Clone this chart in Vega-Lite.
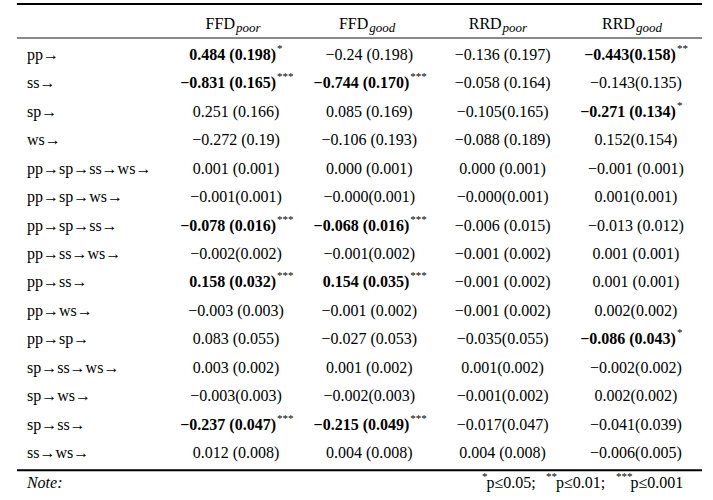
{
  "$schema": "https://vega.github.io/schema/vega-lite/v6.json",
  "width": 713,
  "height": 500,
  "autosize": {"type": "fit", "contains": "padding"},
  "padding": 0,
  "background": "white",
  "config": {
    "view": {"stroke": null},
    "text": {"font": "Liberation Serif", "fontSize": 16, "color": "black", "baseline": "middle"}
  },
  "datasets": {
    "cells": [
      {"r": 1, "c": 1, "t": "0.484 (0.198)", "s": "*"},
      {"r": 1, "c": 2, "t": "−0.24 (0.198)", "s": ""},
      {"r": 1, "c": 3, "t": "−0.136 (0.197)", "s": ""},
      {"r": 1, "c": 4, "t": "−0.443(0.158)", "s": "**"},
      {"r": 2, "c": 1, "t": "−0.831 (0.165)", "s": "***"},
      {"r": 2, "c": 2, "t": "−0.744 (0.170)", "s": "***"},
      {"r": 2, "c": 3, "t": "−0.058 (0.164)", "s": ""},
      {"r": 2, "c": 4, "t": "−0.143(0.135)", "s": ""},
      {"r": 3, "c": 1, "t": "0.251 (0.166)", "s": ""},
      {"r": 3, "c": 2, "t": "0.085 (0.169)", "s": ""},
      {"r": 3, "c": 3, "t": "−0.105(0.165)", "s": ""},
      {"r": 3, "c": 4, "t": "−0.271 (0.134)", "s": "*"},
      {"r": 4, "c": 1, "t": "−0.272 (0.19)", "s": ""},
      {"r": 4, "c": 2, "t": "−0.106 (0.193)", "s": ""},
      {"r": 4, "c": 3, "t": "−0.088 (0.189)", "s": ""},
      {"r": 4, "c": 4, "t": "0.152(0.154)", "s": ""},
      {"r": 5, "c": 1, "t": "0.001 (0.001)", "s": ""},
      {"r": 5, "c": 2, "t": "0.000 (0.001)", "s": ""},
      {"r": 5, "c": 3, "t": "0.000 (0.001)", "s": ""},
      {"r": 5, "c": 4, "t": "−0.001 (0.001)", "s": ""},
      {"r": 6, "c": 1, "t": "−0.001(0.001)", "s": ""},
      {"r": 6, "c": 2, "t": "−0.000(0.001)", "s": ""},
      {"r": 6, "c": 3, "t": "−0.000(0.001)", "s": ""},
      {"r": 6, "c": 4, "t": "0.001(0.001)", "s": ""},
      {"r": 7, "c": 1, "t": "−0.078 (0.016)", "s": "***"},
      {"r": 7, "c": 2, "t": "−0.068 (0.016)", "s": "***"},
      {"r": 7, "c": 3, "t": "−0.006 (0.015)", "s": ""},
      {"r": 7, "c": 4, "t": "−0.013 (0.012)", "s": ""},
      {"r": 8, "c": 1, "t": "−0.002(0.002)", "s": ""},
      {"r": 8, "c": 2, "t": "−0.001(0.002)", "s": ""},
      {"r": 8, "c": 3, "t": "−0.001 (0.002)", "s": ""},
      {"r": 8, "c": 4, "t": "0.001 (0.001)", "s": ""},
      {"r": 9, "c": 1, "t": "0.158 (0.032)", "s": "***"},
      {"r": 9, "c": 2, "t": "0.154 (0.035)", "s": "***"},
      {"r": 9, "c": 3, "t": "−0.001 (0.002)", "s": ""},
      {"r": 9, "c": 4, "t": "0.001 (0.001)", "s": ""},
      {"r": 10, "c": 1, "t": "−0.003 (0.003)", "s": ""},
      {"r": 10, "c": 2, "t": "−0.001 (0.002)", "s": ""},
      {"r": 10, "c": 3, "t": "−0.001 (0.002)", "s": ""},
      {"r": 10, "c": 4, "t": "0.002(0.002)", "s": ""},
      {"r": 11, "c": 1, "t": "0.083 (0.055)", "s": ""},
      {"r": 11, "c": 2, "t": "−0.027 (0.053)", "s": ""},
      {"r": 11, "c": 3, "t": "−0.035(0.055)", "s": ""},
      {"r": 11, "c": 4, "t": "−0.086 (0.043)", "s": "*"},
      {"r": 12, "c": 1, "t": "0.003 (0.002)", "s": ""},
      {"r": 12, "c": 2, "t": "0.001 (0.002)", "s": ""},
      {"r": 12, "c": 3, "t": "0.001(0.002)", "s": ""},
      {"r": 12, "c": 4, "t": "−0.002(0.002)", "s": ""},
      {"r": 13, "c": 1, "t": "−0.003(0.003)", "s": ""},
      {"r": 13, "c": 2, "t": "−0.002(0.003)", "s": ""},
      {"r": 13, "c": 3, "t": "−0.001(0.002)", "s": ""},
      {"r": 13, "c": 4, "t": "0.002(0.002)", "s": ""},
      {"r": 14, "c": 1, "t": "−0.237 (0.047)", "s": "***"},
      {"r": 14, "c": 2, "t": "−0.215 (0.049)", "s": "***"},
      {"r": 14, "c": 3, "t": "−0.017(0.047)", "s": ""},
      {"r": 14, "c": 4, "t": "−0.041(0.039)", "s": ""},
      {"r": 15, "c": 1, "t": "0.012 (0.008)", "s": ""},
      {"r": 15, "c": 2, "t": "0.004 (0.008)", "s": ""},
      {"r": 15, "c": 3, "t": "0.004 (0.008)", "s": ""},
      {"r": 15, "c": 4, "t": "−0.006(0.005)", "s": ""}
    ],
    "labels": [
      {"r": 1, "label": "pp→"},
      {"r": 2, "label": "ss→"},
      {"r": 3, "label": "sp→"},
      {"r": 4, "label": "ws→"},
      {"r": 5, "label": "pp→sp→ss→ws→"},
      {"r": 6, "label": "pp→sp→ws→"},
      {"r": 7, "label": "pp→sp→ss→"},
      {"r": 8, "label": "pp→ss→ws→"},
      {"r": 9, "label": "pp→ss→"},
      {"r": 10, "label": "pp→ws→"},
      {"r": 11, "label": "pp→sp→"},
      {"r": 12, "label": "sp→ss→ws→"},
      {"r": 13, "label": "sp→ws→"},
      {"r": 14, "label": "sp→ss→"},
      {"r": 15, "label": "ss→ws→"}
    ],
    "headers": [
      {"c": 1, "main": "FFD", "sub": "poor"},
      {"c": 2, "main": "FFD", "sub": "good"},
      {"c": 3, "main": "RRD", "sub": "poor"},
      {"c": 4, "main": "RRD", "sub": "good"}
    ],
    "foot": [
      {"t": "*", "k": "s1"},
      {"t": "p≤0.05;", "k": "n1"},
      {"t": "**", "k": "s2"},
      {"t": "p≤0.01;", "k": "n2"},
      {"t": "***", "k": "s3"},
      {"t": "p≤0.001", "k": "n3"}
    ]
  },
  "layer": [
    {
      "data": {"values": [{}]},
      "mark": {"type": "rule", "color": "black", "strokeWidth": 2},
      "encoding": {
        "x": {"datum": -0.643, "type": "quantitative", "scale": {"domain": [-0.77, 4.578], "zero": false, "nice": false}, "axis": null},
        "x2": {"datum": 4.496},
        "y": {"datum": -0.795, "type": "quantitative", "scale": {"domain": [-0.936, 16.65], "zero": false, "nice": false, "reverse": true}, "axis": null}
      }
    },
    {
      "data": {"values": [{}]},
      "mark": {"type": "rule", "color": "#8a8a8a", "strokeWidth": 2},
      "encoding": {
        "x": {"datum": -0.643, "type": "quantitative"},
        "x2": {"datum": 4.496},
        "y": {"datum": 0.4, "type": "quantitative"}
      }
    },
    {
      "data": {"values": [{}]},
      "mark": {"type": "rule", "color": "black", "strokeWidth": 2},
      "encoding": {
        "x": {"datum": -0.643, "type": "quantitative"},
        "x2": {"datum": 4.496},
        "y": {"datum": 15.6, "type": "quantitative"}
      }
    },
    {
      "data": {"name": "headers"},
      "mark": {"type": "text", "align": "right", "dx": -1},
      "encoding": {
        "x": {"field": "c", "type": "quantitative"},
        "y": {"datum": -0.08, "type": "quantitative"},
        "text": {"field": "main"}
      }
    },
    {
      "data": {"name": "headers"},
      "mark": {"type": "text", "align": "left", "dx": 0, "dy": 4, "fontSize": 13, "fontStyle": "italic"},
      "encoding": {
        "x": {"field": "c", "type": "quantitative"},
        "y": {"datum": -0.08, "type": "quantitative"},
        "text": {"field": "sub"}
      }
    },
    {
      "data": {"name": "labels"},
      "mark": {"type": "text", "align": "left"},
      "encoding": {
        "x": {"datum": -0.568, "type": "quantitative"},
        "y": {"field": "r", "type": "quantitative"},
        "text": {"field": "label"}
      }
    },
    {
      "data": {"name": "cells"},
      "transform": [{"filter": "datum.s == ''"}],
      "mark": {"type": "text", "align": "center"},
      "encoding": {
        "x": {"field": "c", "type": "quantitative"},
        "y": {"field": "r", "type": "quantitative"},
        "text": {"field": "t"}
      }
    },
    {
      "data": {"name": "cells"},
      "transform": [{"filter": "datum.s != ''"}],
      "mark": {"type": "text", "align": "right", "dx": 40, "fontWeight": "bold"},
      "encoding": {
        "x": {"field": "c", "type": "quantitative"},
        "y": {"field": "r", "type": "quantitative"},
        "text": {"field": "t"}
      }
    },
    {
      "data": {"name": "cells"},
      "transform": [{"filter": "datum.s != ''"}],
      "mark": {"type": "text", "align": "left", "dx": 41, "dy": -6, "fontSize": 11},
      "encoding": {
        "x": {"field": "c", "type": "quantitative"},
        "y": {"field": "r", "type": "quantitative"},
        "text": {"field": "s"}
      }
    },
    {
      "data": {"values": [{"t": "Note:"}]},
      "mark": {"type": "text", "align": "left", "fontStyle": "italic"},
      "encoding": {
        "x": {"datum": -0.568, "type": "quantitative"},
        "y": {"datum": 16.05, "type": "quantitative"},
        "text": {"field": "t"}
      }
    },
    {
      "data": {"name": "foot"},
      "transform": [{"filter": "datum.k == 's1'"}],
      "mark": {"type": "text", "align": "left", "dx": 0, "dy": -6, "fontSize": 11},
      "encoding": {
        "x": {"datum": 2.845, "type": "quantitative"},
        "y": {"datum": 16.05, "type": "quantitative"},
        "text": {"field": "t"}
      }
    },
    {
      "data": {"name": "foot"},
      "transform": [{"filter": "datum.k == 'n1'"}],
      "mark": {"type": "text", "align": "left", "dx": 4.5},
      "encoding": {
        "x": {"datum": 2.845, "type": "quantitative"},
        "y": {"datum": 16.05, "type": "quantitative"},
        "text": {"field": "t"}
      }
    },
    {
      "data": {"name": "foot"},
      "transform": [{"filter": "datum.k == 's2'"}],
      "mark": {"type": "text", "align": "left", "dx": 64, "dy": -6, "fontSize": 11},
      "encoding": {
        "x": {"datum": 2.845, "type": "quantitative"},
        "y": {"datum": 16.05, "type": "quantitative"},
        "text": {"field": "t"}
      }
    },
    {
      "data": {"name": "foot"},
      "transform": [{"filter": "datum.k == 'n2'"}],
      "mark": {"type": "text", "align": "left", "dx": 74},
      "encoding": {
        "x": {"datum": 2.845, "type": "quantitative"},
        "y": {"datum": 16.05, "type": "quantitative"},
        "text": {"field": "t"}
      }
    },
    {
      "data": {"name": "foot"},
      "transform": [{"filter": "datum.k == 's3'"}],
      "mark": {"type": "text", "align": "left", "dx": 134, "dy": -6, "fontSize": 11},
      "encoding": {
        "x": {"datum": 2.845, "type": "quantitative"},
        "y": {"datum": 16.05, "type": "quantitative"},
        "text": {"field": "t"}
      }
    },
    {
      "data": {"name": "foot"},
      "transform": [{"filter": "datum.k == 'n3'"}],
      "mark": {"type": "text", "align": "left", "dx": 148.5},
      "encoding": {
        "x": {"datum": 2.845, "type": "quantitative"},
        "y": {"datum": 16.05, "type": "quantitative"},
        "text": {"field": "t"}
      }
    }
  ]
}
